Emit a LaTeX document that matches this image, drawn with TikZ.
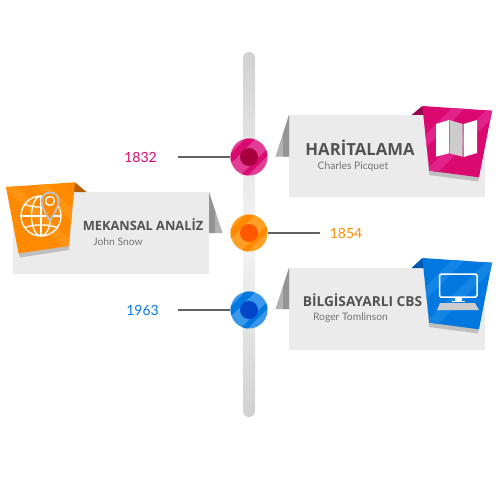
\documentclass[tikz,border=0pt]{standalone}
\usepackage{fontspec}
\usepackage{xcolor}
\setmainfont{Lato}
\newfontfamily\headfont{Open Sans}
\definecolor{magbase}{HTML}{D9096F}
\definecolor{magband}{HTML}{E0228A}
\definecolor{maglight}{HTML}{E23C94}
\definecolor{magdark}{HTML}{97044F}
\definecolor{maginner}{HTML}{A6003F}
\definecolor{orgbase}{HTML}{FF8A00}
\definecolor{orgband}{HTML}{FF9312}
\definecolor{orglight}{HTML}{FF9F26}
\definecolor{orgdark}{HTML}{B85C00}
\definecolor{orginner}{HTML}{FF5800}
\definecolor{blubase}{HTML}{0078E0}
\definecolor{bluband}{HTML}{1585E5}
\definecolor{blulight}{HTML}{3A98EC}
\definecolor{bludark}{HTML}{0057AE}
\definecolor{bluinner}{HTML}{0046C8}
\tikzset{
  panel/.style={fill=black!8},
  foldlight/.style={fill=black!30},
  folddark/.style={fill=black!42},
  shadowgrey/.style={fill=black!25},
  stem/.style={draw=black!62,line width=2.3pt},
  hub/.style={circle,minimum size=37pt,inner sep=0pt},
  hubcore/.style={circle,minimum size=18pt,inner sep=0pt},
  year/.style={font=\fontsize{14}{16}\selectfont},
  title/.style={anchor=base,font=\headfont\bfseries\fontsize{12.8}{16}\selectfont,text=black!68},
  person/.style={anchor=base,font=\fontsize{10.3}{12}\selectfont,text=black!55},
  iconline/.style={draw=white,line width=1.3pt}
}
\newcommand{\bandfill}[3]{\fill[#1] (0,{#2}) -- (500,{#2-500}) -- (500,{#3-500}) -- (0,{#3}) -- cycle;}
\newcommand{\bandback}[3]{\fill[#1] (0,{0-#2}) -- (500,{500-#2}) -- (500,{500-#3}) -- (0,{0-#3}) -- cycle;}
\begin{document}
\begin{tikzpicture}[x=1pt,y=-1pt]
  \useasboundingbox (0,0) rectangle (500,500);

  % Spine
  \shade[top color=black!18,bottom color=black!18,middle color=black!4,rounded corners=6pt] (243,52) rectangle (255,417);

  % Panel 1 (top right)
  \fill[panel] (289,115) rectangle (485,197);
  \fill[foldlight] (289,115) -- (275.5,156.5) -- (289,156.5) -- cycle;
  \fill[folddark] (289,115) -- (283,134) -- (283,156.5) -- (289,156.5) -- cycle;
  \fill[magdark] (411.5,115) -- (422.3,106) -- (426,115) -- cycle;
  \fill[shadowgrey] (424,115) -- (429,175) -- (478,181.5) -- (479,177) -- (432,160) -- (428,115) -- cycle;
  \begin{scope}
    \clip (422.3,106) -- (492,110.7) -- (479,177.3) -- (429.3,170.7) -- cycle;
    \fill[magbase] (420,100) rectangle (495,180);
    \bandfill{magband}{560}{573}
    \bandfill{magband}{596}{610}
  \end{scope}
  \fill[white] (436,124) -- (449,120) -- (449,153.3) -- (436,156.7) -- cycle;
  \fill[black!20] (449.5,120) -- (462.7,124) -- (462.7,156.7) -- (449.5,153.3) -- cycle;
  \fill[white] (463.5,124) -- (477,120) -- (477,153) -- (463.5,157) -- cycle;
  \node[title,font=\headfont\bfseries\fontsize{16.7}{18}\selectfont] (maptitle) at (360,155.3) {HARİTALAMA};
  \node[person] (mapperson) at (353,169.3) {Charles Picquet};

  % Panel 2 (middle left)
  \fill[panel] (13,192) rectangle (209,274);
  \fill[foldlight] (209,192) -- (222.5,233) -- (209,233) -- cycle;
  \fill[folddark] (209,192) -- (215,211) -- (215,233) -- (209,233) -- cycle;
  \fill[orgdark] (86.5,192) -- (75,182.3) -- (72,192) -- cycle;
  \fill[shadowgrey] (74,192) -- (69,250) -- (20,257.5) -- (18.5,253) -- (66,240) -- (70,192) -- cycle;
  \begin{scope}
    \clip (6,187) -- (75,182.3) -- (68.5,246) -- (18.5,253.3) -- cycle;
    \fill[orgbase] (0,180) rectangle (80,260);
    \bandback{orgband}{-183}{-170}
    \bandback{orgband}{-150}{-137}
  \end{scope}
  \draw[iconline] (41,216) circle[radius=20pt];
  \draw[iconline] (41,216) ellipse[x radius=9.5pt,y radius=20pt];
  \draw[iconline] (41,196) -- (41,236);
  \draw[iconline] (21,216) -- (61,216);
  \draw[iconline] (25,204.5) .. controls (35,208) and (47,208) .. (57,204.5);
  \draw[iconline] (25,227.5) .. controls (35,224) and (47,224) .. (57,227.5);
  \draw[draw=black!25,fill=orgbase,line width=2pt] (50,221) .. controls (46,213) and (41.5,208) .. (41.5,201) .. controls (41.5,196) and (45,192.5) .. (50,192.5) .. controls (55,192.5) and (58.5,196) .. (58.5,201) .. controls (58.5,208) and (54,213) .. (50,221) -- cycle;
  \draw[iconline,fill=orgbase] (50,201) circle[radius=4.5pt];
  \node[title] (geotitle) at (143,230) {MEKANSAL ANALİZ};
  \node[person] (geoperson) at (118,245) {John Snow};

  % Panel 3 (bottom right)
  \fill[panel] (289,268) rectangle (485,350);
  \fill[foldlight] (289,268) -- (275.5,309) -- (289,309) -- cycle;
  \fill[folddark] (289,268) -- (283,287) -- (283,309) -- (289,309) -- cycle;
  \fill[bludark] (411.5,268) -- (422.3,258) -- (426,268) -- cycle;
  \fill[shadowgrey] (424,268) -- (429,327) -- (478,333.5) -- (479,329) -- (432,312) -- (428,268) -- cycle;
  \begin{scope}
    \clip (422.3,258) -- (492,262.7) -- (479,329.3) -- (429.3,322.7) -- cycle;
    \fill[blubase] (420,250) rectangle (495,335);
    \bandfill{bluband}{712}{725}
    \bandfill{bluband}{748}{762}
  \end{scope}
  \draw[draw=white,line width=1.5pt,rounded corners=1.5pt] (439.5,274) rectangle (477,297);
  \fill[white] (455,297) rectangle (461.5,300.5);
  \fill[white] (452,300.5) rectangle (465,302);
  \fill[black!20] (440,303) -- (475,303) -- (479,310) -- (437,310) -- cycle;
  \node[title,font=\headfont\bfseries\fontsize{13.7}{16}\selectfont] (cbstitle) at (362.5,306) {BİLGİSAYARLI CBS};
  \node[person] (cbsperson) at (350.5,320) {Roger Tomlinson};

  % Hubs
  \node[hub,fill=maglight] (hubmap) at (249,157) {};
  \begin{scope}
    \clip (249,157) circle[radius=18.5pt];
    \bandfill{magbase}{384}{394}
    \bandfill{magbase}{416}{423}
  \end{scope}
  \node[hubcore,fill=maginner] (coremap) at (hubmap) {};

  \node[hub,fill=orglight] (hubgeo) at (249,233) {};
  \begin{scope}
    \clip (249,233) circle[radius=18.5pt];
    \bandfill{orgbase}{460}{470}
    \bandfill{orgbase}{492}{499}
  \end{scope}
  \node[hubcore,fill=orginner] (coregeo) at (hubgeo) {};

  \node[hub,fill=blulight] (hubcbs) at (249,310) {};
  \begin{scope}
    \clip (249,310) circle[radius=18.5pt];
    \bandfill{blubase}{537}{547}
    \bandfill{blubase}{569}{576}
  \end{scope}
  \node[hubcore,fill=bluinner] (corecbs) at (hubcbs) {};

  % Years and stems
  \node[year,text=magbase] (yearmap) at (140.5,157) {1832};
  \node[year,text=orgbase] (yeargeo) at (346,233) {1854};
  \node[year,text=blubase] (yearcbs) at (142.5,310) {1963};
  \coordinate (stemmap) at (178,157);
  \coordinate (stemgeo) at (320,233);
  \coordinate (stemcbs) at (178,310);
  \draw[stem] (stemmap) -- (hubmap);
  \draw[stem] (stemgeo) -- (hubgeo);
  \draw[stem] (stemcbs) -- (hubcbs);
\end{tikzpicture}
\end{document}
